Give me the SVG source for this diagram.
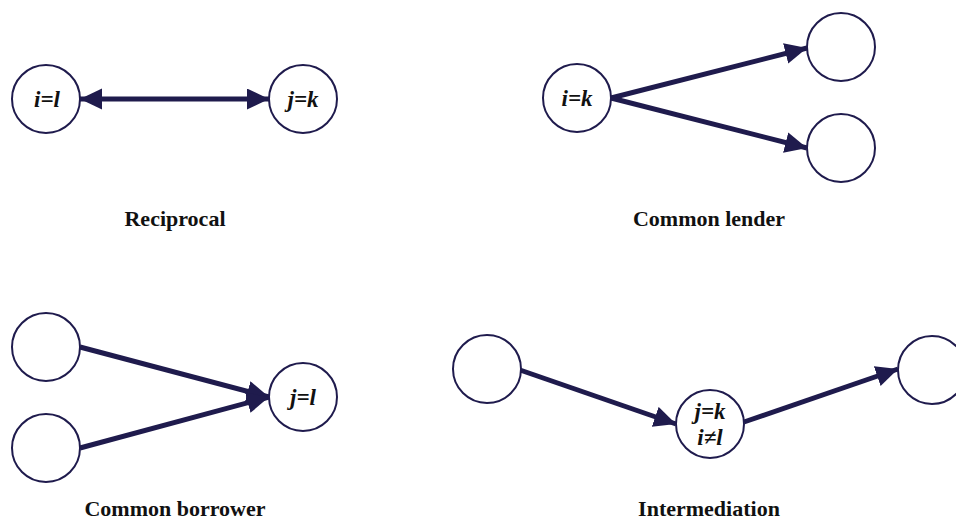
<svg xmlns="http://www.w3.org/2000/svg" width="956" height="522" viewBox="0 0 956 522">
<style>
.node circle{fill:#fff;stroke:#1f1b4d;stroke-width:2}
.nt{font-family:"Liberation Serif",serif;font-weight:bold;font-style:italic;font-size:23px;fill:#111;text-anchor:middle}
.lbl{font-family:"Liberation Serif",serif;font-weight:bold;font-size:22px;fill:#111;text-anchor:middle}
.edge{stroke:#1f1b4d;stroke-width:5;fill:none}
</style>
<defs>
<marker id="ah" markerUnits="userSpaceOnUse" markerWidth="24" markerHeight="22" refX="22" refY="10.5" orient="auto-start-reverse" viewBox="0 0 24 22">
<path d="M0,0 L22,10.5 L0,21 z" fill="#1f1b4d"/>
</marker>
</defs>
<rect width="956" height="522" fill="#fff"/>
<g id="connectors">
<line class="edge" x1="80" y1="99" x2="269" y2="99" marker-start="url(#ah)" marker-end="url(#ah)"/>
<line class="edge" x1="611" y1="98" x2="807" y2="48" marker-end="url(#ah)"/>
<line class="edge" x1="611" y1="98" x2="807" y2="148" marker-end="url(#ah)"/>
<line class="edge" x1="80" y1="347" x2="269" y2="397" marker-end="url(#ah)"/>
<line class="edge" x1="80" y1="448" x2="269" y2="397" marker-end="url(#ah)"/>
<line class="edge" x1="520" y1="370" x2="676" y2="424" marker-end="url(#ah)"/>
<line class="edge" x1="744" y1="422" x2="898" y2="369" marker-end="url(#ah)"/>
</g>
<g id="n-rec-i" class="node"><circle cx="46" cy="99" r="34"/><text class="nt" x="47" y="107">i=l</text></g>
<g id="n-rec-j" class="node"><circle cx="303" cy="99" r="34"/><text class="nt" x="303" y="107">j=k</text></g>
<g id="n-len-i" class="node"><circle cx="577" cy="98" r="34"/><text class="nt" x="577" y="106">i=k</text></g>
<g id="n-len-a" class="node"><circle cx="841" cy="47" r="34"/></g>
<g id="n-len-b" class="node"><circle cx="841" cy="148" r="34"/></g>
<g id="n-bor-a" class="node"><circle cx="46" cy="347" r="34"/></g>
<g id="n-bor-b" class="node"><circle cx="46" cy="448" r="34"/></g>
<g id="n-bor-j" class="node"><circle cx="303" cy="397" r="34"/><text class="nt" x="303" y="405">j=l</text></g>
<g id="n-int-a" class="node"><circle cx="487" cy="369" r="34"/></g>
<g id="n-int-j" class="node"><circle cx="710" cy="424" r="34"/><text class="nt" x="710" y="419">j=k</text><text class="nt" x="710" y="445">i≠l</text></g>
<g id="n-int-b" class="node"><circle cx="932" cy="370" r="34"/></g>
<g id="labels">
<text class="lbl" x="175" y="516">Common borrower</text>
<text class="lbl" x="709" y="516">Intermediation</text>
<text class="lbl" x="175" y="226">Reciprocal</text>
<text class="lbl" x="709" y="226">Common lender</text>
</g>
</svg>
